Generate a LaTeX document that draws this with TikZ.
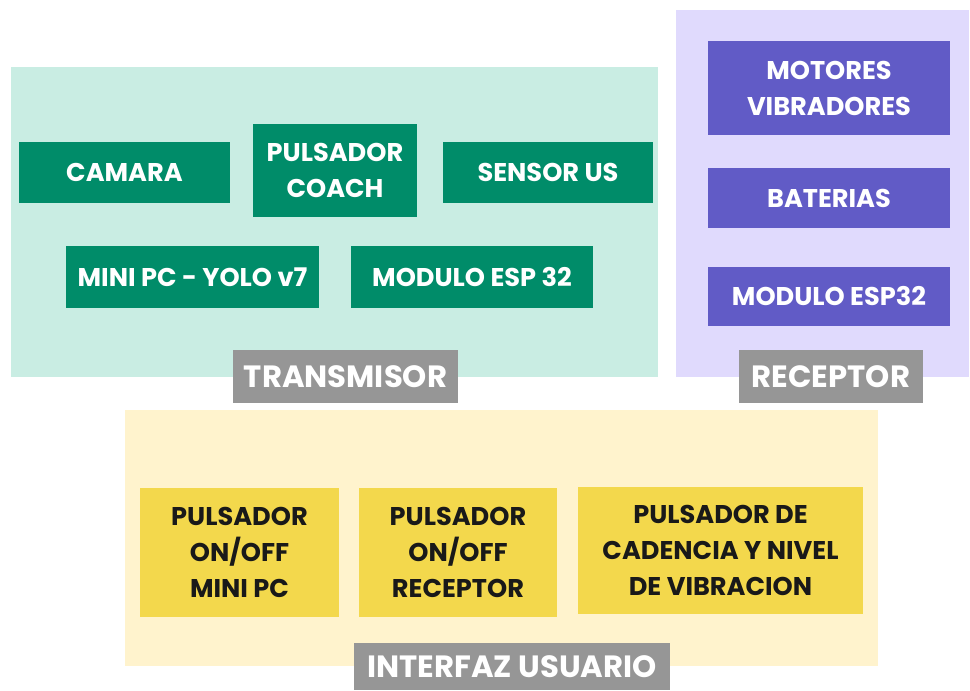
\documentclass[tikz,border=0pt]{standalone}
\usepackage{fontspec}
\setmainfont{Poppins}
\definecolor{TxBg}{RGB}{201, 237, 227}
\definecolor{TxBox}{RGB}{0, 140, 105}
\definecolor{RxBg}{RGB}{224, 218, 253}
\definecolor{RxBox}{RGB}{97, 91, 198}
\definecolor{UiBg}{RGB}{255, 243, 205}
\definecolor{UiBox}{RGB}{243, 216, 76}
\definecolor{TagGray}{RGB}{150, 150, 150}
\usetikzlibrary{positioning}

\tikzset{
  block/.style={inner sep=0pt, align=center, font=\bfseries\fontsize{14.6}{20.5}\selectfont},
  txblock/.style={block, fill=TxBox, text=white},
  rxblock/.style={block, fill=RxBox, text=white},
  uiblock/.style={block, fill=UiBox, text=black!90},
  tag/.style={inner sep=0pt, fill=TagGray, text=white, font=\bfseries\fontsize{17.5}{21}\selectfont}
}

\begin{document}
\begin{tikzpicture}[x=0.02cm, y=-0.02cm]
\useasboundingbox (0,0) rectangle (970,690);
% zones
\fill[TxBg] (11,67) rectangle (658,377);
\fill[RxBg] (676,10) rectangle (969,377);
\fill[UiBg] (125,410) rectangle (878,666);
% transmisor
\node[txblock, minimum width=4.22cm, minimum height=1.22cm] (cam) at (124.5,172.5) {CAMARA};
\node[txblock, minimum width=3.28cm, minimum height=1.86cm] (coach) at (335,170.5) {PULSADOR\\COACH};
\node[txblock, minimum width=4.2cm, minimum height=1.22cm] (sensor) at (548,172.5) {SENSOR US};
\node[txblock, minimum width=5.06cm, minimum height=1.24cm] (minipc) at (192.5,277) {MINI PC - YOLO v7};
\node[txblock, minimum width=4.84cm, minimum height=1.24cm] (espTx) at (472,277) {MODULO ESP 32};
% receptor
\node[rxblock, minimum width=4.84cm, minimum height=1.88cm] (motores) at (829,88) {MOTORES\\VIBRADORES};
\node[rxblock, minimum width=4.84cm, minimum height=1.2cm] (baterias) at (829,198) {BATERIAS};
\node[rxblock, minimum width=4.84cm, minimum height=1.18cm] (espRx) at (829,296.5) {MODULO ESP32};
% interfaz
\node[uiblock, minimum width=3.98cm, minimum height=2.58cm] (onPc) at (239.5,552.5) {PULSADOR\\ON/OFF\\MINI PC};
\node[uiblock, minimum width=3.96cm, minimum height=2.58cm] (onRx) at (458,552.5) {PULSADOR\\ON/OFF\\RECEPTOR};
\node[uiblock, minimum width=5.7cm, minimum height=2.54cm] (cadencia) at (720.5,550.5) {PULSADOR DE\\CADENCIA Y NIVEL\\DE VIBRACION};
% tags
\node[tag, minimum width=4.5cm, minimum height=1.06cm] (tagTx) at (345.5,376.5) {TRANSMISOR};
\node[tag, minimum width=3.68cm, minimum height=1.06cm] (tagRx) at (831,376.5) {RECEPTOR};
\node[tag, minimum width=6.32cm, minimum height=0.94cm] (tagUi) at (512,666.5) {INTERFAZ USUARIO};
\end{tikzpicture}
\end{document}
